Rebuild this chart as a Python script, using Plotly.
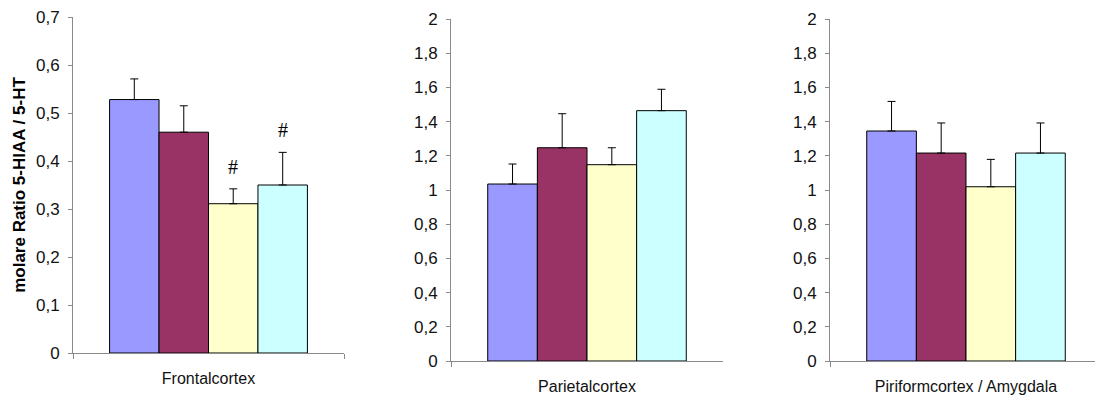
import plotly.graph_objects as go

# ---- data ----
regions = ["Frontalcortex", "Parietalcortex", "Piriformcortex / Amygdala"]
groups = ["Gruppe 1", "Gruppe 2", "Gruppe 3", "Gruppe 4"]
colors = ["#9999FF", "#993366", "#FFFFCC", "#CCFFFF"]

frontal_vals = [0.528, 0.460, 0.311, 0.350]
frontal_err = [0.043, 0.055, 0.031, 0.068]
frontal_sig = ["", "", "#", "#"]

parietal_vals = [1.035, 1.247, 1.148, 1.464]
parietal_err = [0.117, 0.199, 0.099, 0.125]
parietal_sig = ["", "", "", ""]

piriform_vals = [1.345, 1.216, 1.019, 1.216]
piriform_err = [0.173, 0.176, 0.160, 0.176]
piriform_sig = ["", "", "", ""]

panels = [
    (regions[0], frontal_vals, frontal_err, frontal_sig, [0, 0.7], 0.1),
    (regions[1], parietal_vals, parietal_err, parietal_sig, [0, 2], 0.2),
    (regions[2], piriform_vals, piriform_err, piriform_sig, [0, 2], 0.2),
]

W, H = 1095, 402
# pixel geometry of the plot areas (left, right, top, bottom)
geom = [(73, 344, 17, 353), (451, 723, 19, 361), (830, 1095, 19, 361)]
xranges = [[-0.5, 0.5], [-0.5, 0.5], [-0.5, -0.5 + 265 / 272]]
BARGAP = 0.27

fig = go.Figure()
font = "Liberation Sans, Arial, sans-serif"
axis_gray = "#8a8a8a"

annotations = []
for i, (reg, vals, errs, sigs, yr, dt) in enumerate(panels):
    xa = "x" if i == 0 else f"x{i+1}"
    ya = "y" if i == 0 else f"y{i+1}"
    for j, g in enumerate(groups):
        fig.add_trace(go.Bar(
            x=[reg], y=[vals[j]], name=g, xaxis=xa, yaxis=ya,
            marker=dict(color=colors[j], line=dict(color="#000000", width=1)),
            error_y=dict(type="data", array=[errs[j]], arrayminus=[0], symmetric=False,
                         color="#000000", thickness=1, width=4),
            showlegend=False,
        ))
        if sigs[j]:
            bw = (1 - BARGAP) / len(groups)
            xc = -(1 - BARGAP) / 2 + (j + 0.5) * bw
            annotations.append(dict(
                x=xc, y=vals[j] + errs[j], xref=xa, yref=ya, text=sigs[j],
                showarrow=False, yanchor="bottom", yshift=9,
                font=dict(family="Liberation Serif, Times New Roman, serif", size=20, color="#000"),
            ))
    l, r, t, b = geom[i]
    xkey = "xaxis" if i == 0 else f"xaxis{i+1}"
    ykey = "yaxis" if i == 0 else f"yaxis{i+1}"
    fig.update_layout(**{
        xkey: dict(domain=[l / W, r / W], anchor=ya, range=xranges[i], type="category",
                   automargin=False,
                   showline=True, linecolor=axis_gray, linewidth=1,
                   ticks="outside", tickson="boundaries", ticklen=5, tickcolor=axis_gray,
                   ticklabelstandoff=11,
                   tickfont=dict(family=font, size=16, color="#111"),
                   showgrid=False, zeroline=False, fixedrange=True),
        ykey: dict(domain=[1 - b / H, 1 - t / H], anchor=xa, range=yr, dtick=dt, tick0=0,
                   automargin=False,
                   showline=True, linecolor=axis_gray, linewidth=1,
                   ticks="outside", ticklen=4, tickcolor=axis_gray,
                   ticklabelstandoff=5,
                   tickfont=dict(family=font, size=17, color="#111"),
                   showgrid=False, zeroline=False),
    })

fig.update_layout(
    yaxis_title=dict(text="<b>molare Ratio 5-HIAA / 5-HT</b>",
                     font=dict(family=font, size=17, color="#000"), standoff=6),
)

fig.update_layout(
    width=W, height=H,
    margin=dict(l=0, r=0, t=0, b=0, autoexpand=False),
    paper_bgcolor="white", plot_bgcolor="white",
    barmode="group", bargap=BARGAP, bargroupgap=0,
    separators=",.",
    annotations=annotations,
    showlegend=False,
)

fig.write_html("out.html",
               config={"displayModeBar": False},
               post_script="document.body.style.margin='0';document.body.style.overflow='hidden';")
